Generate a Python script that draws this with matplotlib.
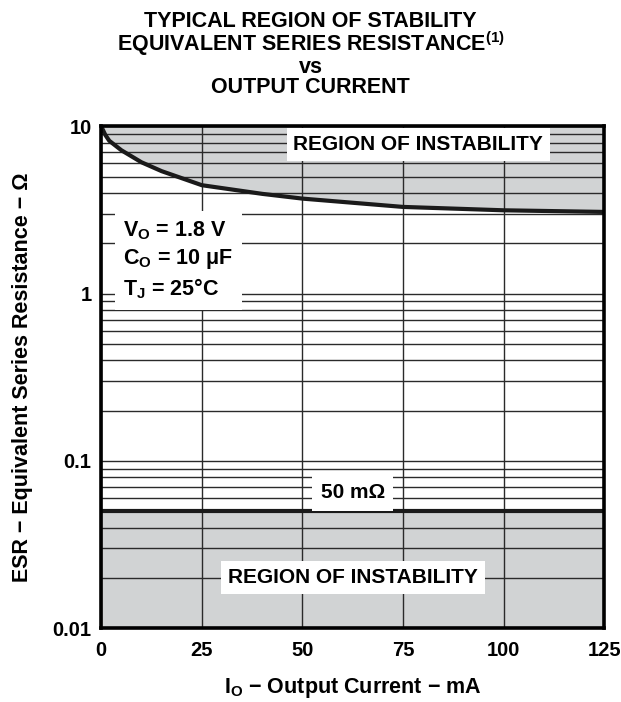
import numpy as np
import matplotlib.pyplot as plt
from matplotlib.ticker import LogLocator, NullFormatter

plt.rcParams['font.family'] = ['Liberation Sans', 'DejaVu Sans']
plt.rcParams['font.weight'] = 'bold'
plt.rcParams['mathtext.fontset'] = 'custom'
plt.rcParams['mathtext.rm'] = 'Liberation Sans:bold'
plt.rcParams['mathtext.it'] = 'Liberation Sans:bold'
plt.rcParams['mathtext.bf'] = 'Liberation Sans:bold'

# Данные: граница устойчивости (верхняя) и минимальное ESR
current_ma = [0, 1, 2, 5, 10, 15, 25, 40, 50, 75, 100, 125]
esr_upper = [10, 8.9, 8.2, 7.2, 6.1, 5.4, 4.45, 3.95, 3.7, 3.3, 3.15, 3.08]
esr_min = 0.05
x_ticks = [0, 25, 50, 75, 100, 125]
y_ticks = [0.01, 0.1, 1, 10]
y_labels = ['0.01', '0.1', '1', '10']

gray = '#d1d3d4'
ink = '#1a1a1a'

fig = plt.figure(figsize=(6.21, 7.02), dpi=100)
ax = fig.add_axes([0.163, 0.105, 0.81, 0.715])
ax.set_yscale('log')
ax.set_xlim(0, 125)
ax.set_ylim(0.01, 10)

# Области неустойчивости
ax.fill_between(current_ma, esr_upper, 10, color=gray, zorder=0)
ax.fill_between([0, 125], 0.01, esr_min, color=gray, zorder=0)
ax.plot(current_ma, esr_upper, color=ink, lw=3, zorder=3, solid_capstyle='butt')
ax.axhline(esr_min, color=ink, lw=3, zorder=3)

# Сетка
ax.yaxis.set_minor_locator(LogLocator(base=10, subs=np.arange(2, 10)))
ax.yaxis.set_minor_formatter(NullFormatter())
ax.grid(True, which='both', axis='y', color='#2a2a2a', lw=1.0, zorder=1)
ax.grid(True, which='major', axis='x', color='#2a2a2a', lw=1.0, zorder=1)
ax.set_axisbelow(True)

ax.set_xticks(x_ticks)
ax.set_xticklabels([str(t) for t in x_ticks])
ax.set_yticks(y_ticks)
ax.set_yticklabels(y_labels)
ax.tick_params(axis='x', which='both', length=0, labelsize=14.5, pad=9)
ax.tick_params(axis='y', which='both', length=0, labelsize=14.5, pad=7)
for s in ax.spines.values():
    s.set_linewidth(2.6)
    s.set_zorder(4)

ax.text(78.8, 7.8, 'REGION OF INSTABILITY', ha='center', va='center', fontsize=15,
        fontweight='bold', bbox=dict(facecolor='white', edgecolor='none', pad=5), zorder=5)
ax.text(62.5, 0.0202, 'REGION OF INSTABILITY', ha='center', va='center', fontsize=15,
        fontweight='bold', bbox=dict(facecolor='white', edgecolor='none', pad=5), zorder=5)
ax.text(62.5, 0.0645, '50 mΩ', ha='center', va='center', fontsize=15, fontweight='bold',
        bbox=dict(facecolor='white', edgecolor='none', pad=6), zorder=5)
ax.text(5.5, 1.58, r'$\mathregular{V_O}$ = 1.8 V' '\n' r'$\mathregular{C_O}$ = 10 μF' '\n'
        r'$\mathregular{T_J}$ = 25°C', ha='left', va='center', fontsize=15.5,
        fontweight='bold', linespacing=1.3,
        bbox=dict(facecolor='white', edgecolor='none', pad=6), zorder=5)

ax.set_xlabel(r'$\mathregular{I_O}$ − Output Current − mA', fontsize=15.5,
              fontweight='bold', labelpad=12)
ax.set_ylabel('ESR − Equivalent Series Resistance − Ω', fontsize=15.5,
              fontweight='bold', labelpad=14)

fig.text(0.5, 0.985, 'TYPICAL REGION OF STABILITY\nEQUIVALENT SERIES RESISTANCE$^{(1)}$\nvs\nOUTPUT CURRENT',
         ha='center', va='top', fontsize=15.5, fontweight='bold', linespacing=0.92)

fig.savefig('out.png', dpi=100)
